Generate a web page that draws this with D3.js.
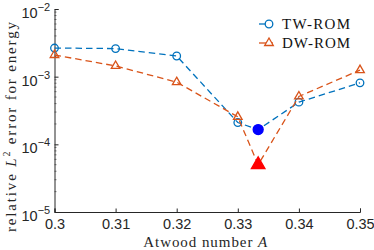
<!DOCTYPE html>
<html lang="en">
<head>
<meta charset="UTF-8">
<title>Energy error vs Atwood number</title>
<style>
  body { margin: 0; background: #fff; }
  .tick text { font-family: "Liberation Sans", Arial, sans-serif; }
</style>
</head>
<body>
<svg width="374" height="250"></svg>
<script src="https://d3js.org/d3.v7.min.js"></script>
<script>

const atwood = [0.3, 0.31, 0.32, 0.33, 1 / 3, 0.34, 0.35];
const twRom = [2.65e-3, 2.6e-3, 2.02e-3, 2.1e-4, 1.65e-4, 4.2e-4, 8.1e-4];
const dwRom = [2.09e-3, 1.44e-3, 8.3e-4, 2.55e-4, 5.0e-5, 5.1e-4, 1.25e-3];
const xTicks = [0.3, 0.31, 0.32, 0.33, 0.34, 0.35];
const yTicks = [1e-5, 1e-4, 1e-3, 1e-2];
const seriesNames = ["TW-ROM", "DW-ROM"];
const specialIndex = 4; // the A = 1/3 point, drawn filled

const svg = d3.select("svg");
const margin = { left: 54.5, right: 14, top: 9, bottom: 38 };
const width = 374, height = 250;

const x = d3.scaleLinear().domain([0.3, 0.35]).range([margin.left, width - margin.right]);
const y = d3.scaleLog().domain([1e-5, 1e-2]).range([height - margin.bottom, margin.top]);

const axisColor = "#262626";
const serif = "'Liberation Serif', 'DejaVu Serif', serif";

// x axis
const gx = svg.append("g")
    .attr("transform", `translate(0,${height - margin.bottom})`)
    .call(d3.axisBottom(x).tickValues(xTicks).tickSize(-3.5).tickPadding(7)
        .tickFormat(d => String(+d.toFixed(2))));
gx.select(".domain").attr("stroke", axisColor);
gx.selectAll(".tick line").attr("stroke", axisColor);
gx.selectAll(".tick text").attr("font-size", 14.5).attr("fill", "#262626");

// y axis minor ticks
const minor = [];
for (let e = -5; e < -2; e++) for (let m = 2; m < 10; m++) minor.push(m * Math.pow(10, e));
svg.append("g").selectAll("line").data(minor).enter().append("line")
    .attr("x1", margin.left).attr("x2", margin.left + 2)
    .attr("y1", d => y(d)).attr("y2", d => y(d))
    .attr("stroke", axisColor).attr("stroke-width", 0.6);

const gy = svg.append("g")
    .attr("transform", `translate(${margin.left},0)`)
    .call(d3.axisLeft(y).tickValues(yTicks).tickSize(-4).tickFormat(""));
gy.select(".domain").attr("stroke", axisColor);
gy.selectAll(".tick line").attr("stroke", axisColor);
gy.selectAll(".tick").append("text")
    .attr("x", -33).attr("y", 8.5)
    .attr("text-anchor", "start")
    .attr("fill", "#262626")
    .attr("font-size", 14.5)
    .each(function (d) {
        const t = d3.select(this);
        t.append("tspan").text("10");
        t.append("tspan").attr("dy", -7).attr("font-size", 11)
            .text("\u2212" + Math.abs(Math.round(Math.log10(d))));
    });

// axis labels
svg.append("text")
    .attr("x", x(0.325) - 2).attr("y", 247)
    .attr("text-anchor", "middle")
    .attr("font-family", serif).attr("font-size", 15).attr("fill", "#262626")
    .attr("textLength", 124).attr("lengthAdjust", "spacing")
    .html('Atwood number <tspan font-style="italic">A</tspan>');

svg.append("text")
    .attr("transform", "translate(15.5,127) rotate(-90)")
    .attr("text-anchor", "middle")
    .attr("font-family", serif).attr("font-size", 15).attr("fill", "#262626")
    .attr("textLength", 210).attr("lengthAdjust", "spacing")
    .html('relative <tspan font-style="italic">L</tspan><tspan dy="-6" font-size="10">2</tspan><tspan dy="6"> error for energy</tspan>');

// series
const colors = ["#0072BD", "#D95319"];
const fills = ["#0000FF", "#FF0000"];
const allData = [twRom, dwRom];

const line = d3.line().x(d => x(d[0])).y(d => y(d[1]));
const tri = d3.symbol().type(d3.symbolTriangle);

allData.forEach((vals, s) => {
    const pts = atwood.map((a, i) => [a, vals[i]]);
    svg.append("path")
        .attr("d", line(pts))
        .attr("fill", "none")
        .attr("stroke", colors[s])
        .attr("stroke-width", 1.3)
        .attr("stroke-dasharray", "6.5,4");

    const g = svg.append("g");
    pts.forEach((p, i) => {
        const special = i === specialIndex;
        if (s === 0) {
            g.append("circle")
                .attr("cx", x(p[0])).attr("cy", y(p[1]))
                .attr("r", special ? 5 : 3.8)
                .attr("fill", special ? fills[0] : "none")
                .attr("stroke", special ? fills[0] : colors[0])
                .attr("stroke-width", 1.3);
        } else {
            g.append("path")
                .attr("d", tri.size(special ? 80 : 32)())
                .attr("transform", `translate(${x(p[0])},${y(p[1])})`)
                .attr("fill", special ? fills[1] : "none")
                .attr("stroke", special ? fills[1] : colors[1])
                .attr("stroke-width", 1.3);
        }
    });
});

// legend
const legend = svg.append("g").attr("transform", "translate(259,24)");
seriesNames.forEach((name, i) => {
    const row = legend.append("g").attr("transform", `translate(0,${i * 19})`);
    row.append("line").attr("x1", 0).attr("x2", 14).attr("y1", 0).attr("y2", 0)
        .attr("stroke", colors[i]).attr("stroke-width", 1.3);
    if (i === 0) {
        row.append("circle").attr("cx", 10).attr("cy", 0).attr("r", 3.8)
            .attr("fill", "#fff").attr("stroke", colors[0]).attr("stroke-width", 1.3);
    } else {
        row.append("path").attr("d", tri.size(32)()).attr("transform", "translate(10,0)")
            .attr("fill", "#fff").attr("stroke", colors[1]).attr("stroke-width", 1.3);
    }
    row.append("text").attr("x", 23).attr("y", 5)
        .attr("font-family", serif).attr("font-size", 15).attr("fill", "#111")
        .attr("textLength", 68).attr("lengthAdjust", "spacing")
        .text(name);
});

</script>
</body>
</html>
